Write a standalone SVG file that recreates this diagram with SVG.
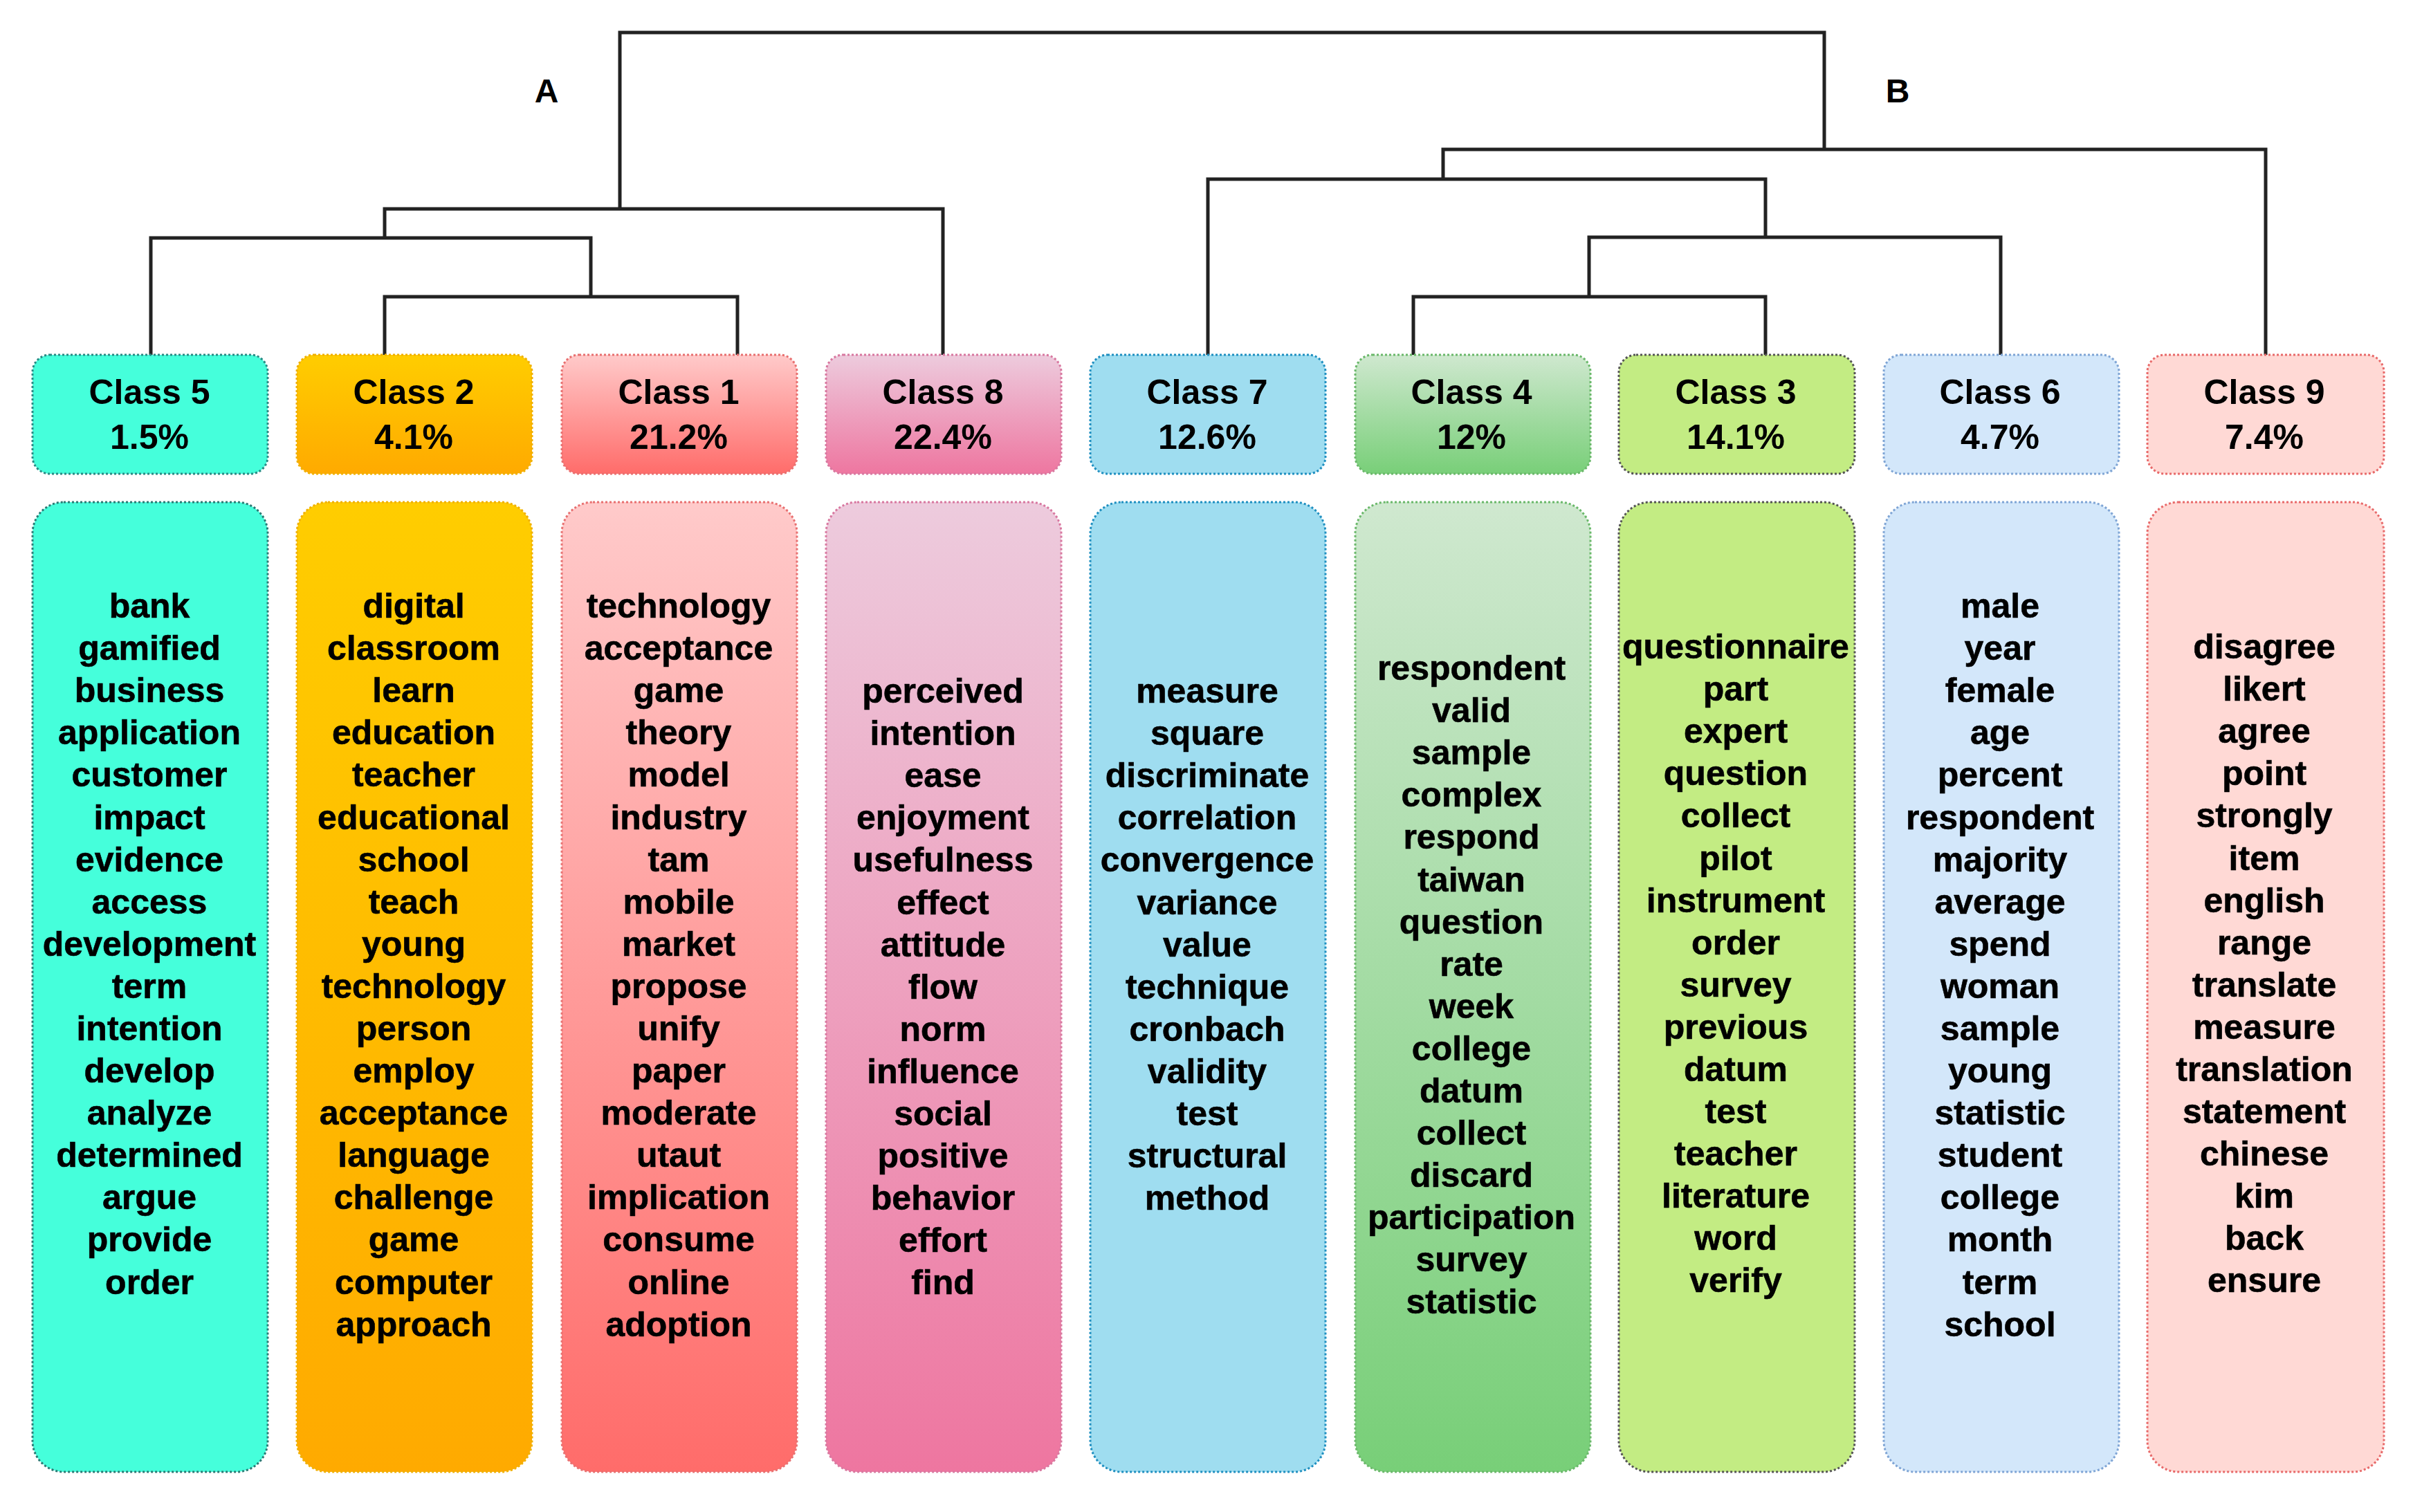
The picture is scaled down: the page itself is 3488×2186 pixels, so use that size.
<svg xmlns="http://www.w3.org/2000/svg" width="3488" height="2186" viewBox="0 0 3488 2186">
<defs>
<linearGradient id="g2" x1="0" y1="0" x2="0" y2="1"><stop offset="0" stop-color="#FFCD00"/><stop offset="1" stop-color="#FFAA00"/></linearGradient>
<linearGradient id="g1" x1="0" y1="0" x2="0" y2="1"><stop offset="0" stop-color="#FFCACA"/><stop offset="1" stop-color="#FF6C6A"/></linearGradient>
<linearGradient id="g8" x1="0" y1="0" x2="0" y2="1"><stop offset="0" stop-color="#EDCBDD"/><stop offset="1" stop-color="#EE76A0"/></linearGradient>
<linearGradient id="g4" x1="0" y1="0" x2="0" y2="1"><stop offset="0" stop-color="#CFE8CF"/><stop offset="1" stop-color="#78CF78"/></linearGradient>
</defs>
<style>
.hb{stroke-width:3;stroke-dasharray:3 3}
.wb{stroke-width:3;stroke-dasharray:3 3}
.ht{font-family:"Liberation Sans",Arial,sans-serif;font-weight:bold;font-size:50px;text-anchor:middle;fill:#000}
.wt{font-family:"Liberation Sans",Arial,sans-serif;font-weight:bold;font-size:50px;text-anchor:middle;fill:#000;stroke:#000;stroke-width:0.6}
.lbl{font-family:"Liberation Sans",Arial,sans-serif;font-weight:bold;font-size:48px;text-anchor:middle;fill:#000}
.con{fill:none;stroke:#222;stroke-width:5;stroke-linejoin:miter}
</style>
<rect width="3488" height="2186" fill="#fff"/>
<g id="connectors">
<path class="con" d="M896,302 V47 H2637 V216"/>
<path class="con" d="M556,344 V302 H1363 V513"/>
<path class="con" d="M218,513 V344 H854 V429"/>
<path class="con" d="M556,513 V429 H1066 V513"/>
<path class="con" d="M1746,513 V259 H2552 V343"/>
<path class="con" d="M2086,259 V216 H3275 V513"/>
<path class="con" d="M2297,429 V343 H2892 V513"/>
<path class="con" d="M2043,513 V429 H2552 V513"/>
</g>
<text class="lbl" x="790" y="148">A</text>
<text class="lbl" x="2743" y="148">B</text>

<g id="class5">
<rect class="hb" x="47" y="513" width="340" height="172" rx="25" fill="#45FFDB" stroke="#2a8a84"/>
<text class="ht" x="216" y="584">Class 5</text><text class="ht" x="216" y="649">1.5%</text>
<rect class="wb" x="47" y="726" width="340" height="1402" rx="45" fill="#45FFDB" stroke="#2a7a74"/>
<text class="wt" x="216" y="893"><tspan x="216" dy="0">bank</tspan><tspan x="216" dy="61.1">gamified</tspan><tspan x="216" dy="61.1">business</tspan><tspan x="216" dy="61.1">application</tspan><tspan x="216" dy="61.1">customer</tspan><tspan x="216" dy="61.1">impact</tspan><tspan x="216" dy="61.1">evidence</tspan><tspan x="216" dy="61.1">access</tspan><tspan x="216" dy="61.1">development</tspan><tspan x="216" dy="61.1">term</tspan><tspan x="216" dy="61.1">intention</tspan><tspan x="216" dy="61.1">develop</tspan><tspan x="216" dy="61.1">analyze</tspan><tspan x="216" dy="61.1">determined</tspan><tspan x="216" dy="61.1">argue</tspan><tspan x="216" dy="61.1">provide</tspan><tspan x="216" dy="61.1">order</tspan></text>
</g>

<g id="class2">
<rect class="hb" x="429" y="513" width="340" height="172" rx="25" fill="url(#g2)" stroke="#f0b000"/>
<text class="ht" x="598" y="584">Class 2</text><text class="ht" x="598" y="649">4.1%</text>
<rect class="wb" x="429" y="726" width="340" height="1402" rx="45" fill="url(#g2)" stroke="#f0b000"/>
<text class="wt" x="598" y="893"><tspan x="598" dy="0">digital</tspan><tspan x="598" dy="61.1">classroom</tspan><tspan x="598" dy="61.1">learn</tspan><tspan x="598" dy="61.1">education</tspan><tspan x="598" dy="61.1">teacher</tspan><tspan x="598" dy="61.1">educational</tspan><tspan x="598" dy="61.1">school</tspan><tspan x="598" dy="61.1">teach</tspan><tspan x="598" dy="61.1">young</tspan><tspan x="598" dy="61.1">technology</tspan><tspan x="598" dy="61.1">person</tspan><tspan x="598" dy="61.1">employ</tspan><tspan x="598" dy="61.1">acceptance</tspan><tspan x="598" dy="61.1">language</tspan><tspan x="598" dy="61.1">challenge</tspan><tspan x="598" dy="61.1">game</tspan><tspan x="598" dy="61.1">computer</tspan><tspan x="598" dy="61.1">approach</tspan></text>
</g>

<g id="class1">
<rect class="hb" x="812" y="513" width="340" height="172" rx="25" fill="url(#g1)" stroke="#e87070"/>
<text class="ht" x="981" y="584">Class 1</text><text class="ht" x="981" y="649">21.2%</text>
<rect class="wb" x="812" y="726" width="340" height="1402" rx="45" fill="url(#g1)" stroke="#e87070"/>
<text class="wt" x="981" y="893"><tspan x="981" dy="0">technology</tspan><tspan x="981" dy="61.1">acceptance</tspan><tspan x="981" dy="61.1">game</tspan><tspan x="981" dy="61.1">theory</tspan><tspan x="981" dy="61.1">model</tspan><tspan x="981" dy="61.1">industry</tspan><tspan x="981" dy="61.1">tam</tspan><tspan x="981" dy="61.1">mobile</tspan><tspan x="981" dy="61.1">market</tspan><tspan x="981" dy="61.1">propose</tspan><tspan x="981" dy="61.1">unify</tspan><tspan x="981" dy="61.1">paper</tspan><tspan x="981" dy="61.1">moderate</tspan><tspan x="981" dy="61.1">utaut</tspan><tspan x="981" dy="61.1">implication</tspan><tspan x="981" dy="61.1">consume</tspan><tspan x="981" dy="61.1">online</tspan><tspan x="981" dy="61.1">adoption</tspan></text>
</g>

<g id="class8">
<rect class="hb" x="1194" y="513" width="340" height="172" rx="25" fill="url(#g8)" stroke="#d878a0"/>
<text class="ht" x="1363" y="584">Class 8</text><text class="ht" x="1363" y="649">22.4%</text>
<rect class="wb" x="1194" y="726" width="340" height="1402" rx="45" fill="url(#g8)" stroke="#d878a0"/>
<text class="wt" x="1363" y="1016"><tspan x="1363" dy="0">perceived</tspan><tspan x="1363" dy="61.1">intention</tspan><tspan x="1363" dy="61.1">ease</tspan><tspan x="1363" dy="61.1">enjoyment</tspan><tspan x="1363" dy="61.1">usefulness</tspan><tspan x="1363" dy="61.1">effect</tspan><tspan x="1363" dy="61.1">attitude</tspan><tspan x="1363" dy="61.1">flow</tspan><tspan x="1363" dy="61.1">norm</tspan><tspan x="1363" dy="61.1">influence</tspan><tspan x="1363" dy="61.1">social</tspan><tspan x="1363" dy="61.1">positive</tspan><tspan x="1363" dy="61.1">behavior</tspan><tspan x="1363" dy="61.1">effort</tspan><tspan x="1363" dy="61.1">find</tspan></text>
</g>

<g id="class7">
<rect class="hb" x="1576" y="513" width="340" height="172" rx="25" fill="#9FDDF0" stroke="#1f8fc0"/>
<text class="ht" x="1745" y="584">Class 7</text><text class="ht" x="1745" y="649">12.6%</text>
<rect class="wb" x="1576" y="726" width="340" height="1402" rx="45" fill="#9FDDF0" stroke="#1f8fc0"/>
<text class="wt" x="1745" y="1016"><tspan x="1745" dy="0">measure</tspan><tspan x="1745" dy="61.1">square</tspan><tspan x="1745" dy="61.1">discriminate</tspan><tspan x="1745" dy="61.1">correlation</tspan><tspan x="1745" dy="61.1">convergence</tspan><tspan x="1745" dy="61.1">variance</tspan><tspan x="1745" dy="61.1">value</tspan><tspan x="1745" dy="61.1">technique</tspan><tspan x="1745" dy="61.1">cronbach</tspan><tspan x="1745" dy="61.1">validity</tspan><tspan x="1745" dy="61.1">test</tspan><tspan x="1745" dy="61.1">structural</tspan><tspan x="1745" dy="61.1">method</tspan></text>
</g>

<g id="class4">
<rect class="hb" x="1959" y="513" width="340" height="172" rx="25" fill="url(#g4)" stroke="#6ab86a"/>
<text class="ht" x="2127" y="584">Class 4</text><text class="ht" x="2127" y="649">12%</text>
<rect class="wb" x="1959" y="726" width="340" height="1402" rx="45" fill="url(#g4)" stroke="#6ab86a"/>
<text class="wt" x="2127" y="983"><tspan x="2127" dy="0">respondent</tspan><tspan x="2127" dy="61.1">valid</tspan><tspan x="2127" dy="61.1">sample</tspan><tspan x="2127" dy="61.1">complex</tspan><tspan x="2127" dy="61.1">respond</tspan><tspan x="2127" dy="61.1">taiwan</tspan><tspan x="2127" dy="61.1">question</tspan><tspan x="2127" dy="61.1">rate</tspan><tspan x="2127" dy="61.1">week</tspan><tspan x="2127" dy="61.1">college</tspan><tspan x="2127" dy="61.1">datum</tspan><tspan x="2127" dy="61.1">collect</tspan><tspan x="2127" dy="61.1">discard</tspan><tspan x="2127" dy="61.1">participation</tspan><tspan x="2127" dy="61.1">survey</tspan><tspan x="2127" dy="61.1">statistic</tspan></text>
</g>

<g id="class3">
<rect class="hb" x="2340" y="513" width="341" height="172" rx="25" fill="#C3EC83" stroke="#555"/>
<text class="ht" x="2509" y="584">Class 3</text><text class="ht" x="2509" y="649">14.1%</text>
<rect class="wb" x="2340" y="726" width="341" height="1402" rx="45" fill="#C3EC83" stroke="#555"/>
<text class="wt" x="2509" y="952"><tspan x="2509" dy="0">questionnaire</tspan><tspan x="2509" dy="61.1">part</tspan><tspan x="2509" dy="61.1">expert</tspan><tspan x="2509" dy="61.1">question</tspan><tspan x="2509" dy="61.1">collect</tspan><tspan x="2509" dy="61.1">pilot</tspan><tspan x="2509" dy="61.1">instrument</tspan><tspan x="2509" dy="61.1">order</tspan><tspan x="2509" dy="61.1">survey</tspan><tspan x="2509" dy="61.1">previous</tspan><tspan x="2509" dy="61.1">datum</tspan><tspan x="2509" dy="61.1">test</tspan><tspan x="2509" dy="61.1">teacher</tspan><tspan x="2509" dy="61.1">literature</tspan><tspan x="2509" dy="61.1">word</tspan><tspan x="2509" dy="61.1">verify</tspan></text>
</g>

<g id="class6">
<rect class="hb" x="2723" y="513" width="340" height="172" rx="25" fill="#D3E7FA" stroke="#7fa5d5"/>
<text class="ht" x="2891" y="584">Class 6</text><text class="ht" x="2891" y="649">4.7%</text>
<rect class="wb" x="2723" y="726" width="340" height="1402" rx="45" fill="#D3E7FA" stroke="#7fa5d5"/>
<text class="wt" x="2891" y="893"><tspan x="2891" dy="0">male</tspan><tspan x="2891" dy="61.1">year</tspan><tspan x="2891" dy="61.1">female</tspan><tspan x="2891" dy="61.1">age</tspan><tspan x="2891" dy="61.1">percent</tspan><tspan x="2891" dy="61.1">respondent</tspan><tspan x="2891" dy="61.1">majority</tspan><tspan x="2891" dy="61.1">average</tspan><tspan x="2891" dy="61.1">spend</tspan><tspan x="2891" dy="61.1">woman</tspan><tspan x="2891" dy="61.1">sample</tspan><tspan x="2891" dy="61.1">young</tspan><tspan x="2891" dy="61.1">statistic</tspan><tspan x="2891" dy="61.1">student</tspan><tspan x="2891" dy="61.1">college</tspan><tspan x="2891" dy="61.1">month</tspan><tspan x="2891" dy="61.1">term</tspan><tspan x="2891" dy="61.1">school</tspan></text>
</g>

<g id="class9">
<rect class="hb" x="3104" y="513" width="342" height="172" rx="25" fill="#FFD9D5" stroke="#e86a6a"/>
<text class="ht" x="3273" y="584">Class 9</text><text class="ht" x="3273" y="649">7.4%</text>
<rect class="wb" x="3104" y="726" width="342" height="1402" rx="45" fill="#FFD9D5" stroke="#e86a6a"/>
<text class="wt" x="3273" y="952"><tspan x="3273" dy="0">disagree</tspan><tspan x="3273" dy="61.1">likert</tspan><tspan x="3273" dy="61.1">agree</tspan><tspan x="3273" dy="61.1">point</tspan><tspan x="3273" dy="61.1">strongly</tspan><tspan x="3273" dy="61.1">item</tspan><tspan x="3273" dy="61.1">english</tspan><tspan x="3273" dy="61.1">range</tspan><tspan x="3273" dy="61.1">translate</tspan><tspan x="3273" dy="61.1">measure</tspan><tspan x="3273" dy="61.1">translation</tspan><tspan x="3273" dy="61.1">statement</tspan><tspan x="3273" dy="61.1">chinese</tspan><tspan x="3273" dy="61.1">kim</tspan><tspan x="3273" dy="61.1">back</tspan><tspan x="3273" dy="61.1">ensure</tspan></text>
</g>
</svg>
